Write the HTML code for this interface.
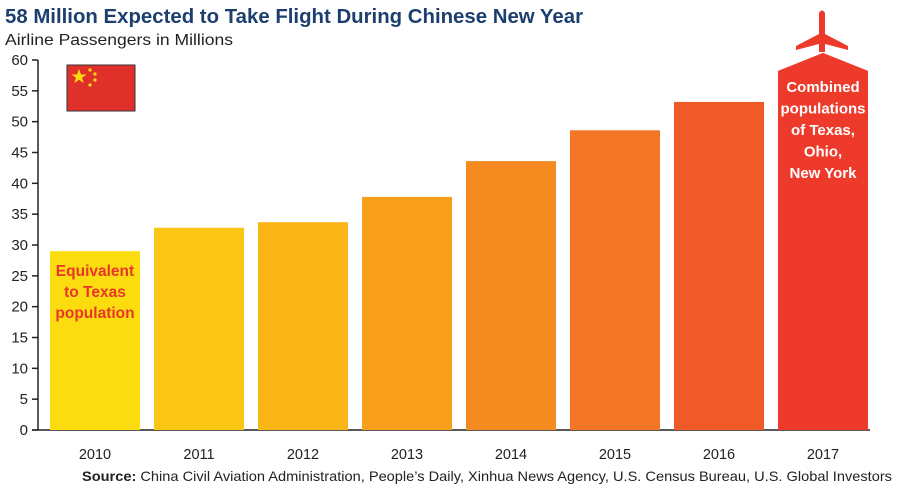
<!DOCTYPE html>
<html><head><meta charset="utf-8"><style>
body{margin:0;background:#fff;}
svg{display:block;font-family:"Liberation Sans",sans-serif;}
</style></head><body>
<svg id="chart" width="900" height="492" viewBox="0 0 900 492">
<text x="5" y="23" font-size="20" font-weight="bold" fill="#1d3f6e" textLength="578" lengthAdjust="spacingAndGlyphs">58 Million Expected to Take Flight During Chinese New Year</text>
<text x="5" y="45" font-size="16" fill="#222" textLength="228" lengthAdjust="spacingAndGlyphs">Airline Passengers in Millions</text>
<g id="yaxis"></g>
<g id="bars"></g>
<g id="xlabels"></g>
<g>
<rect x="67" y="65" width="68" height="46" fill="#e0302a" stroke="#333" stroke-width="1"/>
<polygon points="79,69 81,74.5 86.5,74.5 82,77.8 83.8,83 79,79.8 74.2,83 76,77.8 71.5,74.5 77,74.5" fill="#fcdc10"/>
<circle cx="90" cy="70" r="1.6" fill="#fcdc10"/><circle cx="95" cy="74" r="1.6" fill="#fcdc10"/>
<circle cx="95" cy="80" r="1.6" fill="#fcdc10"/><circle cx="90" cy="85" r="1.6" fill="#fcdc10"/>
</g>
<g fill="#ee3a2a">
<path d="M819,13 Q822,8 825,13 L825,34 L848,46 L848,50 L825,44 L825,52 L819,52 L819,44 L796,50 L796,46 L819,34 Z"/>
</g>
<text x="82" y="481" font-size="14" fill="#222" textLength="810" lengthAdjust="spacingAndGlyphs"><tspan font-weight="bold">Source:</tspan> China Civil Aviation Administration, People’s Daily, Xinhua News Agency, U.S. Census Bureau, U.S. Global Investors</text>
</svg>
<script>
const categories=["2010","2011","2012","2013","2014","2015","2016","2017"];
const values=[29.0,32.8,33.7,37.8,43.6,48.6,53.2,58.4];
const colors=["#fbdc0f","#fbc513","#fab516","#f8a01c","#f58a21","#f37526","#f05a28","#ee3a2a"];
const yTicks=[0,5,10,15,20,25,30,35,40,45,50,55,60];
const NS="http://www.w3.org/2000/svg";
const y0=430,y1=60,yMax=60;
function yScale(v){return y0-(v/yMax)*(y0-y1);}
function xScale(i){return 50+i*104;}
const bw=90;
function mk(t,a,p){const e=document.createElementNS(NS,t);for(const k in a)e.setAttribute(k,a[k]);p.appendChild(e);return e;}
const ya=document.getElementById('yaxis');
const ax=mk('line',{x1:38,y1:y1,x2:38,y2:y0,stroke:'#222','stroke-width':1.5},ya);


const bl=mk('line',{x1:32,y1:y0,x2:870,y2:y0,stroke:'#222','stroke-width':1.5},ya);


yTicks.forEach(v=>{
 const y=yScale(v);
 const tk=mk('line',{x1:32,y1:y,x2:38,y2:y,stroke:'#222','stroke-width':1.5},ya);
 
 
 const t=mk('text',{x:28,y:y+5,'text-anchor':'end','font-size':15,fill:'#222'},ya);
 t.textContent=v;
 
 
});
const bg=document.getElementById('bars'),xg=document.getElementById('xlabels');
values.forEach((v,i)=>{
 const x=xScale(i),y=yScale(v);
 let b;
 if(i===values.length-1){
  b=mk('path',{d:`M${x},${y0} L${x},${y+1} L${x+bw/2},${y-17} L${x+bw},${y+1} L${x+bw},${y0} Z`,fill:colors[i]},bg);
 } else {
  b=mk('rect',{x:x,y:y,width:bw,height:y0-y,fill:colors[i]},bg);
 }
 
 
 const t=mk('text',{x:x+bw/2,y:459,'text-anchor':'middle','font-size':14.5,fill:'#222'},xg);
 t.textContent=categories[i];
 
 
});
function note(lines,cx,sy,lh,col,fs,name){
 const g=mk('g',{},bg);
 
 
 lines.forEach((l,k)=>{const t=mk('text',{x:cx,y:sy+k*lh,'text-anchor':'middle','font-size':fs,'font-weight':'bold',fill:col},g);t.textContent=l;});
}
note(["Equivalent","to Texas","population"],xScale(0)+bw/2,276,21,"#e8362a",15.5,"texas-annotation");
note(["Combined","populations","of Texas,","Ohio,","New York"],xScale(7)+bw/2,92,21.5,"#fff",15,"combined-annotation");
</script>
</body></html>
